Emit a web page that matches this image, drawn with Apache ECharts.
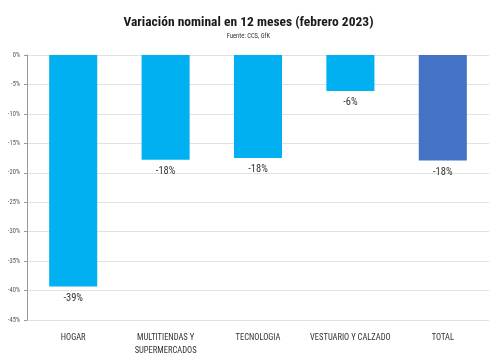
<!DOCTYPE html>
<html><head><meta charset="utf-8">
<script src="https://cdn.jsdelivr.net/npm/echarts@6/dist/echarts.min.js"></script>
<style>html,body{margin:0;padding:0;background:#fff}#c{width:497px;height:360px}</style>
</head><body><div id="c"></div>
<script>
const categories = ['HOGAR', 'MULTITIENDAS Y\nSUPERMERCADOS', 'TECNOLOGIA', 'VESTUARIO Y CALZADO', 'TOTAL'];
const values = [-39.3, -17.8, -17.5, -6.1, -17.9];
const labels = ['-39%', '-18%', '-18%', '-6%', '-18%'];
const barColors = ['#00B0F0', '#00B0F0', '#00B0F0', '#00B0F0', '#4472C4'];
const font = '"Roboto Condensed", "Open Sans Condensed", sans-serif';
const chart = echarts.init(document.getElementById('c'));
chart.setOption({
  animation: false,
  title: {
    text: 'Variación nominal en 12 meses (febrero 2023)',
    subtext: 'Fuente: CCS, GfK',
    left: 'center', top: 11, itemGap: 3,
    textStyle: {fontFamily: font, fontWeight: 'bold', fontSize: 13.5, color: '#1a1a1a'},
    subtextStyle: {fontFamily: font, fontSize: 6.5, color: '#333'}
  },
  grid: {left: 27, right: 8, top: 55, bottom: 40},
  xAxis: {
    type: 'category', data: categories, position: 'bottom',
    axisLine: {show: false}, axisTick: {show: false},
    axisLabel: {fontFamily: font, fontSize: 8.5, color: '#333', interval: 0, margin: 11, lineHeight: 13}
  },
  yAxis: {
    type: 'value', min: -45, max: 0, interval: 5,
    axisLine: {show: true, lineStyle: {color: '#999'}},
    axisTick: {show: true, length: 3, lineStyle: {color: '#999'}},
    axisLabel: {fontFamily: font, fontSize: 6.5, color: '#555', formatter: v => v + '%', margin: 7},
    splitLine: {lineStyle: {color: '#e2e2e2'}}
  },
  series: [{
    type: 'bar', barWidth: '52%',
    data: values.map((v, i) => ({value: v, itemStyle: {color: barColors[i]}, label: {formatter: labels[i]}})),
    label: {show: true, position: 'bottom', distance: 6, fontFamily: font, fontSize: 10.5, color: '#333'}
  }]
});
</script></body></html>
